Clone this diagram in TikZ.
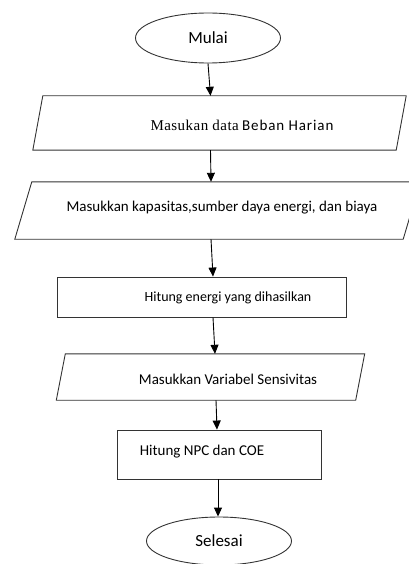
\documentclass[tikz,border=0pt]{standalone}
\usepackage{fontspec}
\setmainfont{Carlito}
\newfontfamily\timesfont{Liberation Serif}
\usetikzlibrary{shapes.geometric,arrows.meta}

\tikzset{
  shp/.style={draw=black!80, line width=0.9pt, inner sep=1pt},
  term/.style={shp, ellipse},
  proc/.style={shp, rectangle},
  frame/.style={rectangle, inner sep=0pt},
  edge/.style={draw=black!80, line width=0.9pt, line join=miter},
  txt/.style={inner sep=0pt},
  arr/.style={line width=0.9pt, -{Triangle[length=9pt,width=8pt]}}
}

\begin{document}
\begin{tikzpicture}[x=1pt, y=-1pt]
\useasboundingbox (0,0) rectangle (408,564);

% Start
\node[term, minimum width=145pt, minimum height=50pt] (mulai) at (208,38)
  {\fontsize{17}{19}\selectfont Mulai};

% Input: daily load
\node[frame, minimum width=363pt, minimum height=54pt] (beban) at (219.5,123) {};
\draw[edge] ([xshift=5pt]beban.north west) -- ([xshift=5pt]beban.north east)
  -- ([xshift=-5pt]beban.south east) -- ([xshift=-5pt]beban.south west) -- cycle;
\node[txt, font=\fontsize{15}{17}\selectfont] (tbeban) at (242,125)
  {{\timesfont\addfontfeatures{LetterSpace=3}Masukan data} {\addfontfeatures{LetterSpace=6}Beban Harian}};

% Input: capacity, sources, cost
\node[frame, minimum width=388pt, minimum height=57pt] (kapasitas) at (217.5,210.5) {};
\draw[edge] ([xshift=8.5pt]kapasitas.north west) -- ([xshift=8.5pt]kapasitas.north east)
  -- ([xshift=-8.5pt]kapasitas.south east) -- ([xshift=-8.5pt]kapasitas.south west) -- cycle;
\node[txt, font=\fontsize{15}{17}\selectfont] (tkapasitas) at (222,208)
  {Masukkan kapasitas,sumber daya energi, dan biaya};

% Process: energy
\node[proc, minimum width=289pt, minimum height=40pt] (energi) at (201.5,297) {};
\node[txt, font=\fontsize{14}{16}\selectfont] (tenergi) at (228,298)
  {Hitung energi yang dihasilkan};

% Input: sensitivity
\node[frame, minimum width=299pt, minimum height=46pt] (variabel) at (210.5,377) {};
\draw[edge] ([xshift=4.5pt]variabel.north west) -- ([xshift=4.5pt]variabel.north east)
  -- ([xshift=-4.5pt]variabel.south east) -- ([xshift=-4.5pt]variabel.south west) -- cycle;
\node[txt, font=\fontsize{15}{17}\selectfont] (tvariabel) at (228,379)
  {Masukkan Variabel Sensivitas};

% Process: NPC and COE
\node[proc, minimum width=204pt, minimum height=49pt] (npc) at (219,454.5) {};
\node[txt, font=\fontsize{15}{17}\selectfont] (tnpc) at (202,452)
  {Hitung NPC dan COE};

% End
\node[term, minimum width=145pt, minimum height=48pt] (selesai) at (219,541)
  {\fontsize{17}{19}\selectfont Selesai};

% Arrows
\draw[arr] (mulai.south) -- ([xshift=-9pt]beban.north);
\draw[arr] ([xshift=-9pt]beban.south) -- ([xshift=-6.5pt]kapasitas.north);
\draw[arr] ([xshift=-6.5pt]kapasitas.south) -- ([xshift=11.5pt]energi.north);
\draw[arr] ([xshift=11.5pt]energi.south) -- ([xshift=4.5pt]variabel.north);
\draw[arr] ([xshift=5.5pt]variabel.south) -- ([xshift=-2pt]npc.north);
\draw[arr] ([xshift=-1pt]npc.south) -- ([xshift=-1pt]selesai.north);

\end{tikzpicture}
\end{document}
